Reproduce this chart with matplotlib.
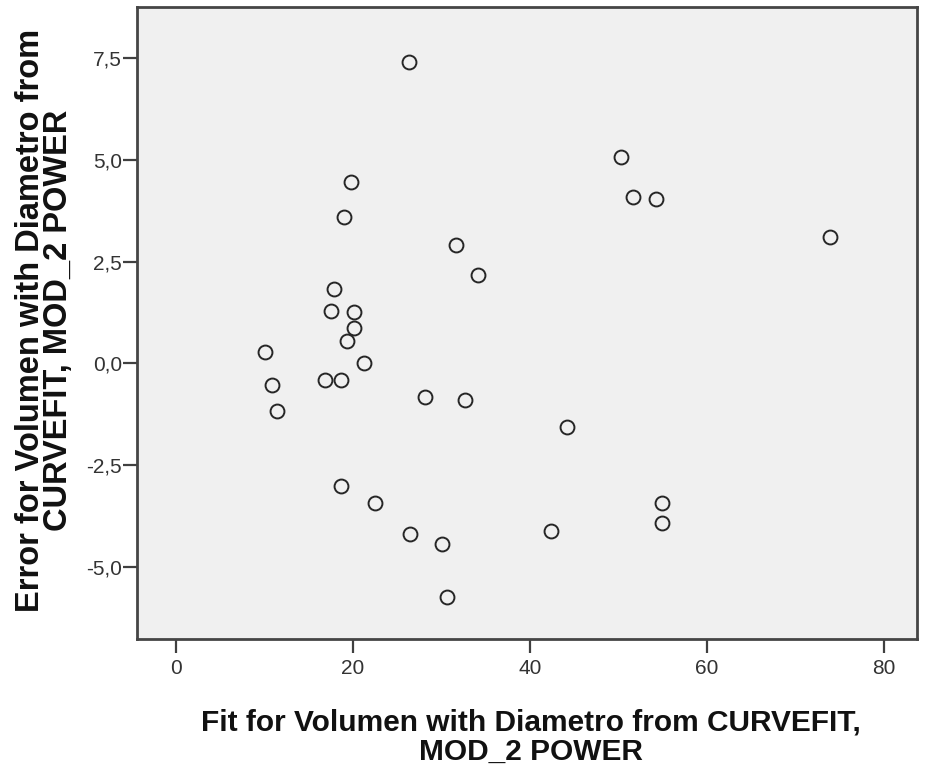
import matplotlib
matplotlib.use("Agg")
import matplotlib.pyplot as plt
from matplotlib.ticker import FixedLocator, FuncFormatter

fit_values = [26.33, 50.28, 51.6, 54.2, 73.86, 19.77, 18.95, 31.64, 34.12, 17.85,
              17.51, 20.11, 20.11, 19.32, 21.24, 10.06, 10.81, 11.41, 16.84, 18.64,
              28.14, 32.66, 44.15, 18.61, 22.49, 26.41, 30.09, 30.62, 42.37, 54.88, 54.88]
error_values = [7.41, 5.08, 4.08, 4.05, 3.11, 4.46, 3.60, 2.91, 2.17, 1.83,
                1.29, 1.27, 0.88, 0.54, 0.02, 0.29, -0.53, -1.17, -0.40, -0.40,
                -0.83, -0.90, -1.57, -3.01, -3.43, -4.20, -4.43, -5.74, -4.12, -3.43, -3.93]
x_ticks = [0, 20, 40, 60, 80]
y_ticks = [-5.0, -2.5, 0.0, 2.5, 5.0, 7.5]
x_label = "Fit for Volumen with Diametro from CURVEFIT,\nMOD_2 POWER"
y_label = "Error for Volumen with Diametro from\nCURVEFIT, MOD_2 POWER"

plt.rcParams['font.family'] = ['Liberation Sans', 'DejaVu Sans']

W, H = 930, 775
fig = plt.figure(figsize=(W / 100, H / 100), dpi=100)
ax = fig.add_axes([137.3 / W, 1 - 639.3 / H, (917 - 137.3) / W, (639.3 - 7.3) / H])
ax.set_facecolor('#f0f0f0')

ax.plot(fit_values, error_values, linestyle='none', marker='o', markersize=10,
        markerfacecolor='none', markeredgecolor='#262626', markeredgewidth=1.4)

ax.set_xlim(-4.37, 83.73)
ax.set_ylim(-6.78, 8.75)
ax.xaxis.set_major_locator(FixedLocator(x_ticks))
ax.yaxis.set_major_locator(FixedLocator(y_ticks))
ax.xaxis.set_major_formatter(FuncFormatter(lambda v, p: f"{v:.0f}"))
ax.yaxis.set_major_formatter(FuncFormatter(lambda v, p: f"{v:.1f}".replace('.', ',')))

for s in ax.spines.values():
    s.set_color('#454545')
    s.set_linewidth(2.0)
ax.tick_params(direction='out', length=10, width=1.6, color='#404040',
               labelcolor='#333333', labelsize=15)
ax.tick_params(axis='x', pad=4)
ax.tick_params(axis='y', pad=1)

fig.text(531 / W, 1 - 737 / H, x_label, ha='center', va='center', multialignment='center',
         fontsize=21.5, fontweight='bold', color='#111111', linespacing=1.07)
fig.text(44.5 / W, 1 - 320 / H, y_label, ha='center', va='center', multialignment='center',
         rotation=90, fontsize=23.5, fontweight='bold', color='#111111', linespacing=0.9)

fig.savefig('out.png', dpi=100, facecolor='white')
